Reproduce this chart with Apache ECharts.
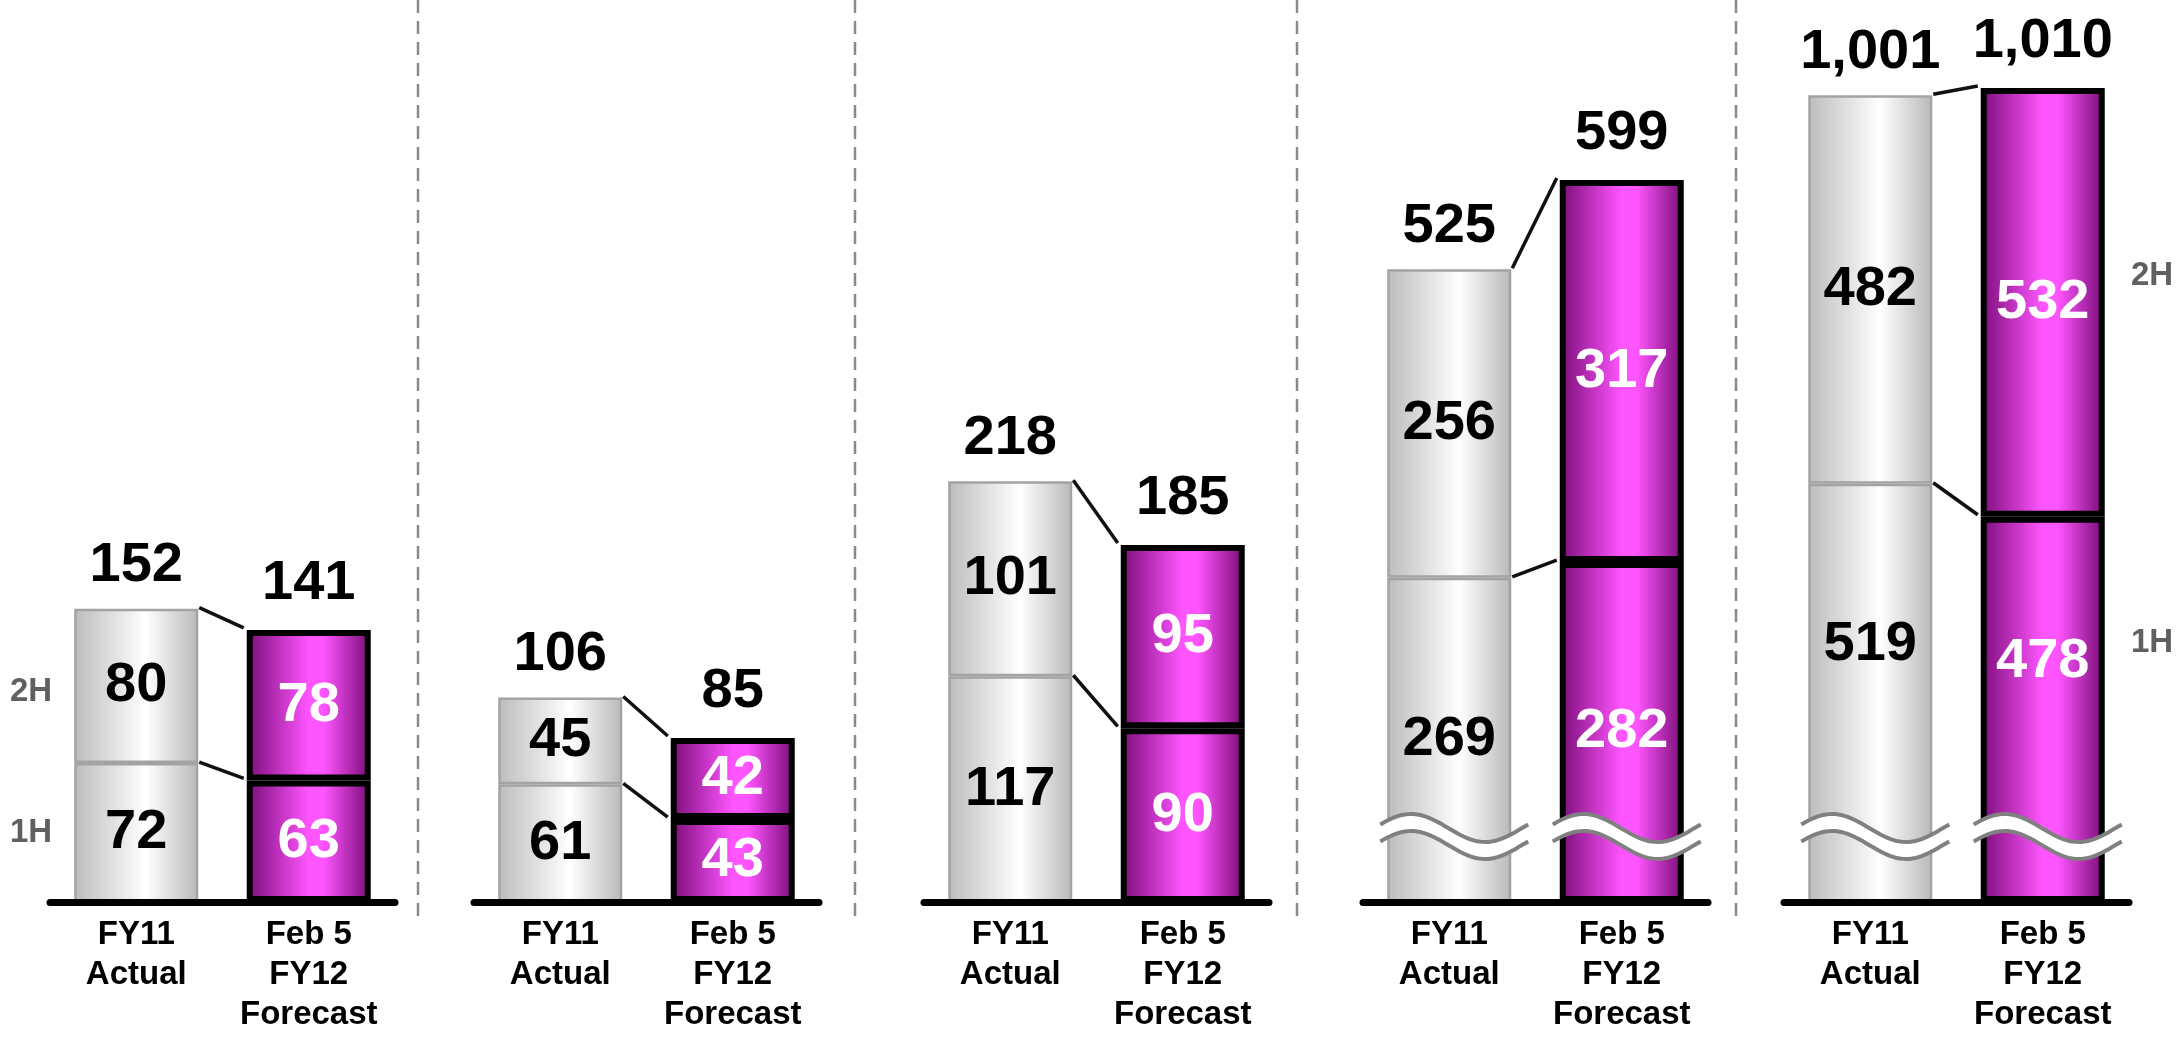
<!DOCTYPE html>
<html>
<head>
<meta charset="utf-8">
<title>FY11 Actual vs FY12 Forecast</title>
<script src="https://cdn.jsdelivr.net/npm/echarts@6/dist/echarts.min.js"></script>
<style>
  html, body { margin: 0; padding: 0; background: #ffffff; }
  #chart { width: 2183px; height: 1037px; }
</style>
</head>
<body>
<div id="chart"></div>
<script>
// ---- data -------------------------------------------------------------
const categories = ['FY11\nActual', 'Feb 5\nFY12\nForecast'];
// one pair per panel: [FY11 actual, FY12 forecast]
const firstHalf  = [[72, 63], [61, 43], [117, 90], [269, 282], [519, 478]];
const secondHalf = [[80, 78], [45, 42], [101, 95], [256, 317], [482, 532]];
const fullYear   = [[152, 141], [106, 85], [218, 185], [525, 599], [1001, 1010]];
const halfLabels = ['1H', '2H'];

// value-axis ceiling for each panel; the last two panels use a broken scale
const axisMax    = [426, 426, 426, 682, 1020];
const brokenAxis = [false, false, false, true, true];

// ---- layout -----------------------------------------------------------
const FONT = '"Liberation Sans", Arial, Helvetica, sans-serif';
const gridLeft  = [50, 474, 924, 1363, 1784];
const gridWidth = 345;
const gridTop = 80, gridBottom = 135;
const BAR_W = 124;
const dividerX = [418, 855, 1297, 1736];

const fmt = v => String(v).replace(/\B(?=(\d{3})+(?!\d))/g, ',');

const actualStyle = {
  color: new echarts.graphic.LinearGradient(0, 0, 1, 0, [
    { offset: 0, color: '#bcbcbc' },
    { offset: 0.58, color: '#ffffff' },
    { offset: 1, color: '#b9b9b9' }
  ]),
  borderColor: '#a3a3a3',
  borderWidth: 2.5
};
const forecastStyle = {
  color: new echarts.graphic.LinearGradient(0, 0, 1, 0, [
    { offset: 0, color: '#7a0c78' },
    { offset: 0.5, color: '#ff55ff' },
    { offset: 0.62, color: '#ff55ff' },
    { offset: 1, color: '#760a73' }
  ]),
  borderColor: '#000000',
  borderWidth: 6
};
const barStyles = [actualStyle, forecastStyle];
const labelColors = ['#000000', '#ffffff'];
// the forecast bars carry a heavier outline, so their totals sit a little higher
const totalLift = [15, 18];

const grids = [], xAxes = [], yAxes = [], series = [];

for (let i = 0; i < 5; i++) {
  grids.push({ left: gridLeft[i], width: gridWidth, top: gridTop, bottom: gridBottom });
  xAxes.push({
    type: 'category', gridIndex: i, data: categories, z: 5,
    axisLine: { lineStyle: { color: '#000000', width: 7 } },
    axisTick: { show: false },
    axisLabel: {
      interval: 0, margin: 13, color: '#000000', fontFamily: FONT,
      fontWeight: 'bold', fontSize: 33, lineHeight: 40, align: 'center'
    }
  });
  yAxes.push({
    type: 'value', gridIndex: i, min: 0, max: axisMax[i],
    show: false, splitLine: { show: false }
  });

  const segLabel = (k, extra) => Object.assign({
    show: true, position: 'inside', color: labelColors[k], fontFamily: FONT,
    fontWeight: 'bold', fontSize: 56
  }, extra || {});

  // 1H segment (bottom of stack)
  series.push({
    type: 'bar', name: halfLabels[0], stack: 'p' + i, xAxisIndex: i, yAxisIndex: i,
    barWidth: BAR_W, z: 2,
    data: firstHalf[i].map((v, k) => ({
      value: v, itemStyle: barStyles[k],
      label: segLabel(k, i === 4 ? { offset: [0, -48] } : null)
    }))
  });
  // 2H segment (top of stack)
  series.push({
    type: 'bar', name: halfLabels[1], stack: 'p' + i, xAxisIndex: i, yAxisIndex: i,
    barWidth: BAR_W, z: 2,
    data: secondHalf[i].map((v, k) => ({
      value: v, itemStyle: barStyles[k], label: segLabel(k)
    }))
  });
  // full-year totals above the bars
  series.push({
    type: 'custom', xAxisIndex: i, yAxisIndex: i, z: 6, silent: true,
    encode: { x: 0, y: 1 },
    data: fullYear[i].map((v, k) => [k, v]),
    renderItem: (params, api) => {
      const k = api.value(0);
      const p = api.coord([k, api.value(1)]);
      return {
        type: 'text', x: p[0], y: p[1] - totalLift[k],
        style: {
          text: fmt(api.value(1)), fill: '#000000',
          font: 'bold 56px ' + FONT, lineHeight: 56,
          align: 'center', verticalAlign: 'bottom'
        }
      };
    }
  });
  // connector lines between the actual and forecast bars
  series.push({
    type: 'custom', xAxisIndex: i, yAxisIndex: i, z: 4, silent: true,
    encode: { x: 0, y: 1 },
    data: [[0, firstHalf[i][0], firstHalf[i][1]], [0, fullYear[i][0], fullYear[i][1]]],
    renderItem: (params, api) => {
      const a = api.coord([0, api.value(1)]);
      const b = api.coord([1, api.value(2)]);
      return {
        type: 'line',
        shape: { x1: a[0] + BAR_W / 2 + 1, y1: a[1] - 1, x2: b[0] - BAR_W / 2 - 3, y2: b[1] - 2 },
        style: { stroke: '#111111', lineWidth: 3.5 }
      };
    }
  });
  // axis-break marks on the compressed panels
  if (brokenAxis[i]) {
    series.push({
      type: 'custom', xAxisIndex: i, yAxisIndex: i, z: 8, silent: true,
      encode: { x: 0, y: 1 },
      data: [[0, 0], [1, 0]],
      renderItem: (params, api) => {
        const p = api.coord([api.value(0), 0]);
        const x0 = p[0] - BAR_W / 2 - 7, x1 = p[0] + BAR_W / 2 + 17;
        const mid = p[1] - 74, amp = 14, gap = 17, phase = 0.26;
        const upper = [], lower = [];
        const N = 48;
        for (let j = 0; j <= N; j++) {
          const t = j / N;
          const x = x0 + t * (x1 - x0);
          const y = mid - amp * Math.sin(2 * Math.PI * t + phase);
          upper.push([x, y]);
          lower.push([x, y + gap]);
        }
        const lineStyle = { stroke: '#808080', lineWidth: 4, fill: null };
        return {
          type: 'group',
          children: [
            { type: 'polygon', shape: { points: upper.concat(lower.slice().reverse()) },
              style: { fill: '#ffffff', stroke: null } },
            { type: 'polyline', shape: { points: upper }, style: lineStyle },
            { type: 'polyline', shape: { points: lower }, style: lineStyle }
          ]
        };
      }
    });
  }
}

const chart = echarts.init(document.getElementById('chart'), null, { renderer: 'canvas' });
chart.setOption({
  backgroundColor: '#ffffff',
  animation: false,
  textStyle: { fontFamily: FONT },
  grid: grids, xAxis: xAxes, yAxis: yAxes, series: series
});

// panel dividers and the 1H / 2H side captions
const graphics = dividerX.map(x => ({
  type: 'line', silent: true, z: 1,
  shape: { x1: x, y1: 0, x2: x, y2: 920 },
  style: { stroke: '#8a8a8a', lineWidth: 2.5, lineDash: [13, 8] }
}));
const sideText = (text, x, y) => ({
  type: 'text', silent: true, z: 10, x: x, y: y,
  style: {
    text: text, fill: '#606060', font: 'bold 33px ' + FONT,
    align: 'center', verticalAlign: 'middle'
  }
});
const leftLow  = chart.convertToPixel({ xAxisIndex: 0, yAxisIndex: 0 }, [0, firstHalf[0][0] / 2]);
const leftHigh = chart.convertToPixel({ xAxisIndex: 0, yAxisIndex: 0 }, [0, firstHalf[0][0] + secondHalf[0][0] / 2]);
const rightLow  = chart.convertToPixel({ xAxisIndex: 4, yAxisIndex: 4 }, [0, firstHalf[4][0] / 2]);
const rightHigh = chart.convertToPixel({ xAxisIndex: 4, yAxisIndex: 4 }, [0, firstHalf[4][0] + secondHalf[4][0] / 2]);
graphics.push(sideText(halfLabels[1], 31, leftHigh[1] + 6));
graphics.push(sideText(halfLabels[0], 31, leftLow[1]));
graphics.push(sideText(halfLabels[1], 2152, rightHigh[1] - 14));
graphics.push(sideText(halfLabels[0], 2152, rightLow[1] - 50));
chart.setOption({ graphic: graphics });
</script>
</body>
</html>
